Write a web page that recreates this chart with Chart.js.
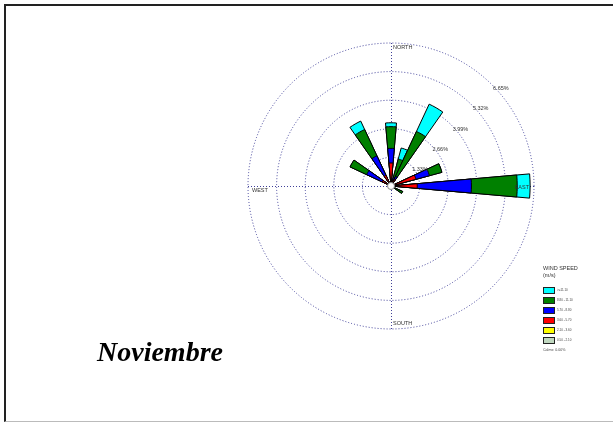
<!DOCTYPE html>
<html>
<head>
<meta charset="utf-8">
<script src="https://cdn.jsdelivr.net/npm/chart.js"></script>
<style>
  html, body { margin: 0; padding: 0; background: #fff; overflow: hidden; }
  #wrap { position: relative; width: 613px; height: 423px; }
  #frame { position: absolute; left: 4px; top: 4px; width: 700px; height: 415px;
           border-top: 2px solid #222; border-left: 2px solid #222; border-bottom: 1px solid #bbb; }
  #rose { position: absolute; left: 0; top: 0; }
  #title { position: absolute; left: 97px; top: 338px; color: #000; white-space: nowrap;
           font: italic bold 28px/28px "Liberation Serif", serif; }
</style>
</head>
<body>
<div id="wrap">
  <div id="frame"></div>
  <canvas id="rose" width="613" height="423"></canvas>
  <div id="title">Noviembre</div>
</div>
<script>
// wind directions, 10 degree sectors
const directions = [0, 10, 20, 30, 40, 50, 60, 70, 80, 90, 100, 110, 120, 130, 140, 150, 160, 170,
                    180, 190, 200, 210, 220, 230, 240, 250, 260, 270, 280, 290, 300, 310, 320, 330, 340, 350];

// frequency (%) of each speed class per direction
const freq050 = [0, 0, 0, 0, 0, 0, 0, 0, 0, 0, 0, 0, 0, 0, 0, 0, 0, 0,
                 0, 0, 0, 0, 0, 0, 0, 0, 0, 0, 0, 0, 0, 0, 0, 0, 0, 0];
const freq210 = [0, 0, 0, 0, 0, 0, 0, 0, 0, 0, 0, 0, 0, 0, 0, 0, 0, 0,
                 0, 0, 0, 0, 0, 0, 0, 0, 0, 0, 0, 0, 0, 0, 0, 0, 0, 0];
const freq360 = [1.07, 0, 0.25, 0.35, 0, 0, 0, 1.20, 0, 1.22, 0, 0, 0.05, 0, 0, 0, 0, 0,
                 0, 0, 0, 0, 0, 0, 0, 0, 0, 0, 0, 0, 0.45, 0, 0, 0.55, 0, 0];
const freq570 = [0.68, 0, 0.15, 0.15, 0, 0, 0, 0.65, 0, 2.52, 0, 0, 0.05, 0, 0, 0, 0, 0,
                 0, 0, 0, 0, 0, 0, 0, 0, 0, 0, 0, 0, 0.80, 0, 0, 1.00, 0, 0];
const freq880 = [1.01, 0, 0.90, 2.30, 0, 0, 0, 0.60, 0, 2.13, 0, 0, 0.50, 0, 0, 0, 0, 0,
                 0, 0, 0, 0, 0, 0, 0, 0, 0, 0, 0, 0, 0.85, 0, 0, 1.35, 0, 0];
const freq1110 = [0.18, 0, 0.53, 1.40, 0, 0, 0, 0, 0, 0.60, 0, 0, 0, 0, 0, 0, 0, 0,
                  0, 0, 0, 0, 0, 0, 0, 0, 0, 0, 0, 0, 0, 0, 0, 0.43, 0, 0];

// speed classes, lowest first
const classLabels = ['0.50 - 2.10', '2.10 - 3.60', '3.60 - 5.70', '5.70 - 8.80', '8.80 - 11.10', '>=11.10'];
const classColors = ['#c0d8c0', '#ffff00', '#ff0000', '#0000ff', '#008000', '#00ffff'];
const classFreqs  = [freq050, freq210, freq360, freq570, freq880, freq1110];

// ring labels step / max
const ringStep = 1.33;
const ringMax = 6.65;
const calms = '0.00%';

// cumulative stacks so each class sits on top of the slower ones
// (dataset 0 is painted last, so the slowest class ends up on top)
let running = directions.map(() => 0);
const datasets = classFreqs.map((f, k) => {
    running = running.map((v, i) => v + f[i]);
    return {
        label: classLabels[k],
        data: running.slice(),
        backgroundColor: classColors[k],
        borderColor: '#000',
        borderWidth: c => (c.raw > 0 ? 1 : 0),
    };
});

const GRID = '#3f3f98';

const roseDecor = {
    id: 'roseDecor',
    beforeDatasetsDraw(chart) {
        const s = chart.scales.r;
        const ctx = chart.ctx;
        const r = s.drawingArea;
        ctx.save();
        ctx.strokeStyle = GRID;
        ctx.lineWidth = 1;
        ctx.setLineDash([1, 2]);
        ctx.beginPath();
        ctx.moveTo(s.xCenter + 0.5, s.yCenter - r);
        ctx.lineTo(s.xCenter + 0.5, s.yCenter + r);
        ctx.moveTo(s.xCenter - r, s.yCenter + 0.5);
        ctx.lineTo(s.xCenter + r, s.yCenter + 0.5);
        ctx.stroke();
        ctx.restore();
    },
    afterDatasetsDraw(chart) {
        const s = chart.scales.r;
        const ctx = chart.ctx;
        const r = s.drawingArea;
        const cx = s.xCenter, cy = s.yCenter;
        ctx.save();
        // calm circle
        ctx.beginPath();
        ctx.arc(cx, cy, 3.5, 0, Math.PI * 2);
        ctx.fillStyle = '#fff';
        ctx.fill();
        ctx.strokeStyle = '#888';
        ctx.lineWidth = 1;
        ctx.stroke();

        ctx.fillStyle = '#333';
        ctx.font = '5.5px "Liberation Sans", Arial, sans-serif';
        ctx.textAlign = 'left';
        ctx.textBaseline = 'top';
        ctx.fillText('NORTH', cx + 2, cy - r + 2);
        ctx.fillText('WEST', cx - r + 4, cy + 2);
        ctx.textBaseline = 'bottom';
        ctx.fillText('SOUTH', cx + 2, cy + r - 3);
        ctx.textAlign = 'right';
        ctx.textBaseline = 'middle';
        ctx.fillText('EAST', cx + r - 5, cy + 1);

        // ring percentages along the 45 degree line
        ctx.textAlign = 'left';
        ctx.textBaseline = 'top';
        s.ticks.forEach(t => {
            if (t.value <= 0) return;
            const d = s.getDistanceFromCenterForValue(t.value);
            ctx.fillText(t.value.toFixed(2) + '%', cx + d * Math.SQRT1_2 + 1, cy - d * Math.SQRT1_2 + 1);
        });
        ctx.restore();
    },
    afterDraw(chart) {
        // wind speed legend
        const ctx = chart.ctx;
        const x = 543;
        ctx.save();
        ctx.fillStyle = '#333';
        ctx.textAlign = 'left';
        ctx.textBaseline = 'top';
        ctx.font = '5.5px "Liberation Sans", Arial, sans-serif';
        ctx.fillText('WIND SPEED', x, 266);
        ctx.fillText('(m/s)', x, 273);
        for (let k = classLabels.length - 1, row = 0; k >= 0; k--, row++) {
            const y = 287 + row * 10;
            ctx.fillStyle = classColors[k];
            ctx.fillRect(x, y, 12, 7);
            ctx.strokeStyle = '#222';
            ctx.lineWidth = 1;
            ctx.strokeRect(x + 0.5, y + 0.5, 11, 6);
            ctx.fillStyle = '#444';
            ctx.font = '3px "Liberation Sans", Arial, sans-serif';
            ctx.textBaseline = 'middle';
            ctx.fillText(classLabels[k], x + 14, y + 3.5);
        }
        ctx.font = '3.6px "Liberation Sans", Arial, sans-serif';
        ctx.textBaseline = 'top';
        ctx.fillText('Calms: ' + calms, x, 348);
        ctx.restore();
    }
};

new Chart(document.getElementById('rose'), {
    type: 'polarArea',
    data: {
        labels: directions.map(d => d + '°'),
        datasets: datasets
    },
    options: {
        responsive: false,
        animation: false,
        devicePixelRatio: 1,
        layout: { padding: { left: 248, right: 79, top: 43, bottom: 94 } },
        plugins: {
            legend: { display: false },
            tooltip: { enabled: false }
        },
        scales: {
            r: {
                min: 0,
                max: ringMax,
                startAngle: -5, // centre each wedge on its direction
                ticks: { display: false, stepSize: ringStep },
                grid: { circular: true, color: GRID, lineWidth: 1 },
                border: { dash: [1, 2] },
                angleLines: { display: false },
                pointLabels: { display: false }
            }
        }
    },
    plugins: [roseDecor]
});
</script>
</body>
</html>
